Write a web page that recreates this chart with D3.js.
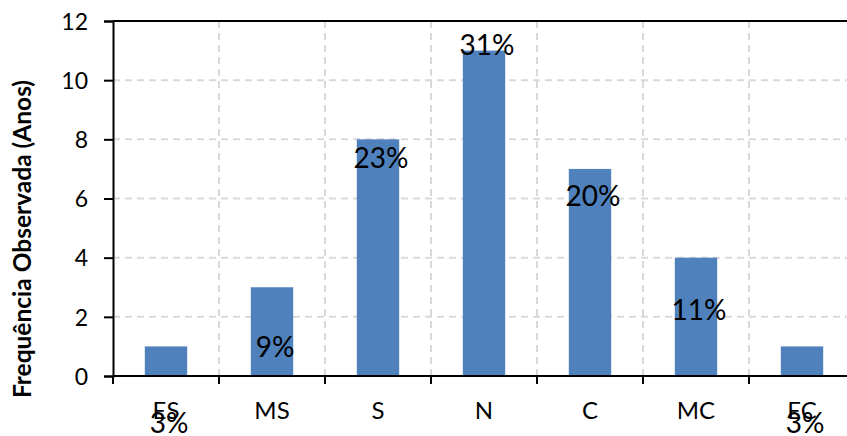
<!DOCTYPE html>
<html>
<head>
<meta charset="utf-8">
<script src="https://cdn.jsdelivr.net/npm/d3@7"></script>
<style>
  html, body { margin: 0; padding: 0; background: #fff; }
  svg { display: block; }
  text { font-family: Lato, "Open Sans", sans-serif; fill: #000; }
</style>
</head>
<body>
<svg id="chart" width="847" height="436"></svg>
<script>
// Categories and observed frequencies (years)
const categories = ["ES", "MS", "S", "N", "C", "MC", "EC"];
const counts = [1, 3, 8, 11, 7, 4, 1];
const yTicks = [0, 2, 4, 6, 8, 10, 12];

const total = d3.sum(counts);
const shares = counts.map(c => c / total);

const svg = d3.select("#chart");
const plot = { left: 113, right: 855, top: 21, bottom: 376 };

const x = d3.scaleBand()
  .domain(categories)
  .range([plot.left, plot.right])
  .padding(0);

const y = d3.scaleLinear()
  .domain([0, 12])
  .range([plot.bottom, plot.top]);

// secondary (hidden) scale used to place the percentage labels
const yShare = d3.scaleLinear()
  .domain([0, 0.35])
  .range([470.8, 7.8]);

const barW = x.bandwidth() * 0.4;

// horizontal gridlines
svg.append("g")
  .selectAll("line")
  .data(yTicks.filter(t => t > 0 && t < 12))
  .join("line")
  .attr("x1", plot.left)
  .attr("x2", plot.right)
  .attr("y1", d => y(d))
  .attr("y2", d => y(d))
  .attr("stroke", "#d9d9d9")
  .attr("stroke-width", 2)
  .attr("stroke-dasharray", "7,5");

// vertical gridlines at category boundaries
svg.append("g")
  .selectAll("line")
  .data(categories.slice(1))
  .join("line")
  .attr("x1", d => x(d))
  .attr("x2", d => x(d))
  .attr("y1", y(12))
  .attr("y2", y(0))
  .attr("stroke", "#d9d9d9")
  .attr("stroke-width", 2)
  .attr("stroke-dasharray", "7,5");

// bars
svg.append("g")
  .selectAll("rect")
  .data(categories)
  .join("rect")
  .attr("x", (d) => x(d) + (x.bandwidth() - barW) / 2)
  .attr("width", barW)
  .attr("y", (d, i) => y(counts[i]))
  .attr("height", (d, i) => y(0) - y(counts[i]))
  .attr("fill", "#4f81bd");

// top border
svg.append("line")
  .attr("x1", plot.left)
  .attr("x2", plot.right)
  .attr("y1", y(12))
  .attr("y2", y(12))
  .attr("stroke", "#000")
  .attr("stroke-width", 2);

// y axis
const yAxis = svg.append("g")
  .attr("transform", `translate(${plot.left},0)`)
  .call(d3.axisLeft(y).tickValues(yTicks).tickSize(9).tickPadding(16));
yAxis.select(".domain").attr("stroke", "#000").attr("stroke-width", 2);
yAxis.selectAll(".tick line").attr("stroke", "#000").attr("stroke-width", 2);
yAxis.selectAll(".tick text")
  .attr("font-family", "Lato, 'Open Sans', sans-serif")
  .attr("font-size", 23)
  .attr("dy", "0.36em")
  .attr("fill", "#000");

// x axis line
svg.append("line")
  .attr("x1", plot.left)
  .attr("x2", plot.right)
  .attr("y1", y(0))
  .attr("y2", y(0))
  .attr("stroke", "#000")
  .attr("stroke-width", 2);

// x tick marks at category boundaries
svg.append("g")
  .selectAll("line")
  .data(categories)
  .join("line")
  .attr("x1", d => x(d))
  .attr("x2", d => x(d))
  .attr("y1", y(0))
  .attr("y2", y(0) + 8)
  .attr("stroke", "#000")
  .attr("stroke-width", 2);

// category labels
svg.append("g")
  .selectAll("text")
  .data(categories)
  .join("text")
  .attr("x", d => x(d) + x.bandwidth() / 2)
  .attr("y", 419)
  .attr("text-anchor", "middle")
  .attr("font-size", 24)
  .text(d => d);

// percentage labels
svg.append("g")
  .selectAll("text")
  .data(categories)
  .join("text")
  .attr("x", d => x(d) + x.bandwidth() / 2 + 3)
  .attr("y", (d, i) => yShare(shares[i]))
  .attr("text-anchor", "middle")
  .attr("font-size", 28)
  .text((d, i) => Math.round(shares[i] * 100) + "%");

// y axis title
svg.append("text")
  .attr("transform", "translate(31,239) rotate(-90)")
  .attr("text-anchor", "middle")
  .attr("font-size", 24.5)
  .attr("font-weight", "bold")
  .text("Frequência Observada (Anos)");
</script>
</body>
</html>
